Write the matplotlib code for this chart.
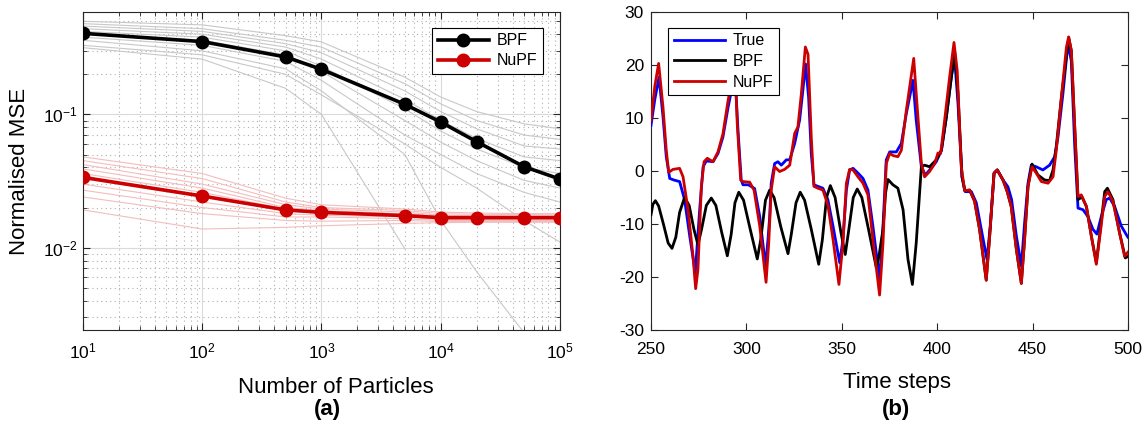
import numpy as np
import matplotlib
matplotlib.use("Agg")
import matplotlib.pyplot as plt
from matplotlib.ticker import LogLocator, NullFormatter

plt.rcParams['font.family'] = ['Liberation Sans', 'DejaVu Sans']
plt.rcParams['mathtext.fontset'] = 'custom'
plt.rcParams['mathtext.rm'] = 'Liberation Sans'
plt.rcParams['mathtext.default'] = 'regular'
plt.rcParams['axes.unicode_minus'] = False

# ---------------- panel (a) data ----------------
n_particles = [10, 100, 500, 1000, 5000, 10000, 20000, 50000, 100000]
bpf_mse = [0.406, 0.352, 0.270, 0.218, 0.119, 0.0876, 0.0624, 0.0405, 0.0327]
nupf_mse = [0.0337, 0.0244, 0.0192, 0.0184, 0.0174, 0.0168, 0.0168, 0.0168, 0.0168]

bpf_runs = [
    [0.50, 0.47, 0.39, 0.35, 0.19, 0.135, 0.105, 0.085, 0.078],
    [0.48, 0.44, 0.36, 0.32, 0.17, 0.12, 0.09, 0.070, 0.065],
    [0.46, 0.42, 0.34, 0.29, 0.15, 0.105, 0.078, 0.058, 0.055],
    [0.44, 0.40, 0.32, 0.26, 0.13, 0.09, 0.066, 0.048, 0.045],
    [0.42, 0.38, 0.30, 0.23, 0.11, 0.075, 0.055, 0.040, 0.036],
    [0.40, 0.36, 0.28, 0.21, 0.09, 0.062, 0.045, 0.032, 0.028],
    [0.38, 0.33, 0.25, 0.18, 0.07, 0.05, 0.036, 0.026, 0.022],
    [0.36, 0.30, 0.22, 0.15, 0.05, 0.016, 0.0066, 0.0023, np.nan],
    [0.317, 0.26, 0.157, 0.10, 0.0098, np.nan, np.nan, np.nan, np.nan],
    [0.33, 0.28, 0.20, 0.14, 0.06, 0.04, 0.028, 0.016, 0.011],
]
nupf_runs = [
    [0.048, 0.036, 0.0235, 0.021, 0.0195, 0.0185, 0.0182, 0.018, 0.018],
    [0.045, 0.033, 0.022, 0.020, 0.019, 0.018, 0.0178, 0.0177, 0.0176],
    [0.042, 0.030, 0.021, 0.0195, 0.0185, 0.0175, 0.0174, 0.0173, 0.0173],
    [0.039, 0.028, 0.020, 0.019, 0.018, 0.0172, 0.0171, 0.017, 0.017],
    [0.036, 0.026, 0.0195, 0.0185, 0.0177, 0.0169, 0.0168, 0.0168, 0.0168],
    [0.033, 0.024, 0.019, 0.018, 0.0173, 0.0166, 0.0165, 0.0165, 0.0165],
    [0.030, 0.022, 0.018, 0.0175, 0.017, 0.0163, 0.0163, 0.0162, 0.0162],
    [0.027, 0.020, 0.017, 0.017, 0.0165, 0.016, 0.016, 0.016, 0.016],
    [0.024, 0.018, 0.016, 0.0158, 0.016, 0.0157, 0.0157, 0.0157, 0.0157],
    [0.0192, 0.0138, 0.0142, 0.0146, 0.0152, 0.0154, 0.0155, 0.0155, 0.0155],
]

# ---------------- panel (b) data ----------------
true_t = [250, 252, 254.2, 256.3, 258, 259.8, 262, 265, 267.6, 270.3, 273.2, 275.5, 277.3, 279,
          282.5, 285.1, 287.7, 290.4, 294, 295.6, 297.3, 298.2, 301, 304.3, 307, 310, 311.3, 312.2,
          313, 314.8, 316.5, 318.3, 320.9, 322.7, 325.3, 327.9, 329.6, 331, 332.6, 334, 335.4,
          337.5, 340.1, 342.7, 345.4, 348.9, 350.6, 352.4, 354.1, 355.9, 358.5, 361.1, 363.7,
          366.3, 369.8, 371.6, 373.3, 375.1, 378.6, 381.2, 383.8, 387.3, 389, 391.7, 393.8, 396,
          399.5, 402.2, 404.8, 407.4, 409.1, 410.9, 413, 414.7, 417.9, 420.5, 423.1, 426.1, 427.8,
          429.8, 431.5, 434.5, 437.1, 439, 441.5, 444.1, 445.8, 447.6, 449.3, 451.9, 455.4, 458.9,
          461.6, 463.3, 465.9, 468.5, 470.3, 472, 473.8, 476.4, 479, 481.6, 483.7, 486, 488.6,
          490.4, 493, 496.5, 499.6, 500]
true_v = [8.6, 13.5, 17.7, 10.2, 2.7, -1.4, -1.7, -2.0, -5.4, -12.3, -19.2, -7.3, 0.8, 1.9,
          1.75, 3.3, 6.4, 12.0, 18.5, 7.7, -1.7, -2.6, -2.6, -3.3, -8.6, -17.9, -13.0, -8.6,
          -2.3, 1.4, 1.75, 1.1, 2.1, 2.1, 5.2, 9.6, 15.2, 20.2, 13.9, 3.3, -2.6,
          -2.9, -3.25, -5.4, -10.4, -17.3, -12.9, -3.6, 0.2, 0.5, -0.4, -1.4, -3.6,
          -10.4, -20.4, -10.4, 2.1, 3.6, 3.6, 5.2, 10.8, 17.1, 9.6, 0.8, -0.75, 0.2,
          1.75, 3.9, 10.2, 17.7, 21.4, 12.7, -1.1, -3.9, -3.9, -6.0, -11.0, -16.7, -10.4,
          -0.4, 0.2, -1.7, -3.0, -5.4, -12.3, -17.9, -9.8, -2.3, 1.1, 0.8, 0.2, 1.1,
          2.7, 6.4, 14.6, 24.0, 20.8, 5.2, -7.0, -7.3, -8.6, -11.0, -11.9, -8.6, -5.4,
          -5.1, -6.7, -10.4, -12.3, -12.5]

nupf_t = [250, 252, 254, 256.3, 258, 259.3, 261.5, 265, 266.8, 269.4, 272, 273.4, 274.6, 276.4,
          277.8, 279.5, 282.5, 285.1, 287.7, 290.4, 294, 295.2, 297, 298.2, 301.7, 304, 307,
          310.3, 311.7, 313, 314.8, 317.4, 320, 322.7, 325.3, 327, 328.8, 330.9, 332.3, 334,
          335.4, 337.5, 340.1, 342.7, 345.4, 348.5, 350.6, 352.4, 354.1, 355.9, 358.5, 361.1,
          363.7, 366.3, 369.8, 371.6, 373.3, 375.1, 377, 379.4, 381.2, 383.8, 387.7, 389, 391.7,
          393.4, 396, 398.7, 400.4, 401.8, 403.9, 406.5, 408.8, 410.5, 412.6, 414.4, 417, 419.6,
          422.2, 425.7, 427.5, 429.8, 431.5, 434.5, 436.7, 438.8, 441.5, 444.1, 445.8, 447.6,
          449.7, 451.9, 454.6, 458.1, 460.7, 462.4, 465.1, 467.7, 468.9, 470.3, 472, 473.8,
          475.5, 478.2, 480.8, 483.4, 485.7, 487.8, 489.5, 492.1, 495.6, 498.2, 500]
nupf_v = [9.6, 16.0, 20.3, 12.0, 3.9, -0.25, 0.3, 0.5, -1.1, -7.3, -16.0, -22.2, -18.6, -2.9,
          1.75, 2.4, 1.75, 3.6, 7.0, 13.3, 20.0, 8.9, -1.7, -2.0, -2.1, -3.6, -10.4,
          -21.0, -13.6, -3.6, 0.8, -0.1, 0.3, 1.1, 7.1, 8.3, 14.6, 23.4, 22.0, 6.4,
          -2.9, -3.25, -3.6, -6.4, -12.9, -21.4, -13.6, -2.3, 0.3, 0.2, -1.1, -2.3,
          -4.5, -12.9, -23.4, -13.6, 1.4, 3.3, 2.9, 2.7, 3.9, 11.4, 21.25, 14.6, 1.4,
          -1.1, -0.1, 1.4, 3.4, 3.3, 9.6, 17.7, 24.25, 18.9, 0.8, -3.7, -3.6, -5.7,
          -11.0, -20.6, -12.3, -0.4, 0.2, -1.7, -3.9, -6.7, -14.8, -21.2, -12.9, -2.9,
          0.8, -0.4, -2.0, -2.3, -1.1, 3.9, 13.9, 23.3, 25.3, 22.7, 8.9, -4.8,
          -4.5, -6.7, -12.3, -17.6, -11.0, -4.8, -3.9, -5.75, -11.7, -16.1, -15.3]

bpf_t = [250, 251, 252.3, 254, 256.5, 259, 261, 263, 265, 267.6, 270, 272.5, 274.6, 276.5, 279,
         281.6, 284, 287, 290, 292, 294, 296, 298.5, 302, 305.7, 307.5, 310, 312.2, 314.5, 318,
         321.8, 323.5, 326, 328.2, 330.5, 334, 337.9, 339.8, 342, 344, 346.5, 349.5, 351.8,
         353.5, 356, 358.1, 360.5, 364, 368.1, 369.5, 371.6, 373, 374.2, 376.8, 379.4, 382.1,
         384.7, 387, 389, 391.7, 393.4, 396, 399.5, 402.2, 404.8, 407.4, 409.1, 410.9, 413,
         414.4, 417, 419.6, 422.2, 425.7, 427.5, 429.8, 431.5, 434.5, 436.7, 438.8, 441.5,
         444.1, 445.8, 447.6, 449.7, 452.8, 456.3, 458.9, 460.7, 462.4, 465.1, 468.9, 470.3,
         472, 473.8, 475.9, 478.2, 480.8, 483.4, 485.7, 487.8, 489.2, 492.1, 495.6, 498.6, 500]
bpf_v = [-8.25, -6.3, -5.6, -6.6, -10.0, -13.6, -14.6, -12.5, -7.8, -5.0, -6.5, -11.0, -13.9,
         -11.0, -6.5, -5.1, -6.5, -11.5, -16.0, -12.0, -6.0, -4.0, -5.5, -11.0, -16.6, -13.0,
         -5.5, -3.6, -5.0, -10.5, -15.6, -12.0, -6.0, -4.0, -5.5, -11.0, -17.6, -13.0, -5.0,
         -2.75, -5.0, -11.5, -15.75, -11.5, -5.0, -3.4, -5.0, -11.0, -18.25, -16.0, -11.0,
         -4.0, -1.6, -2.6, -3.25, -7.3, -16.7, -21.4, -13.6, 0.8, 1.1, 0.8, 2.1, 3.9, 10.2,
         17.7, 22.7, 14.6, -1.1, -3.7, -3.6, -5.7, -11.0, -20.6, -12.3, -0.4, 0.2, -1.7,
         -3.9, -6.7, -14.8, -21.2, -12.9, -2.9, 1.3, -0.75, -1.7, -1.8, 0.2, 4.6, 13.9,
         25.2, 22.7, 8.9, -5.4, -4.9, -6.7, -12.3, -17.3, -10.4, -3.9, -3.25, -5.4, -11.7,
         -16.4, -16.1]

RED = '#CC0000'
AX_COL = '#262626'

fig = plt.figure(figsize=(11.42, 4.37), dpi=100)
ax1 = fig.add_axes([83/1142, 107/437, 477/1142, 318/437])
ax2 = fig.add_axes([651/1142, 107/437, 477/1142, 318/437])

# ---------- panel (a) ----------
for r in bpf_runs:
    ax1.plot(n_particles, r, color='#C8C8C8', lw=0.8, zorder=2)
for r in nupf_runs:
    ax1.plot(n_particles, r, color='#F3BDBD', lw=0.8, zorder=2)
ax1.plot(n_particles, bpf_mse, color='black', lw=2.6, marker='o', ms=9, label='BPF', zorder=4)
ax1.plot(n_particles, nupf_mse, color=RED, lw=2.6, marker='o', ms=9, label='NuPF', zorder=4)
ax1.set_xscale('log')
ax1.set_yscale('log')
ax1.set_xlim(10, 1e5)
ax1.set_ylim(0.00241, 0.587)
ax1.xaxis.set_minor_locator(LogLocator(base=10, subs=np.arange(2, 10)))
ax1.yaxis.set_minor_locator(LogLocator(base=10, subs=np.arange(2, 10)))
ax1.xaxis.set_minor_formatter(NullFormatter())
ax1.yaxis.set_minor_formatter(NullFormatter())
ax1.grid(which='major', color='#DADADA', lw=0.8, ls='-', zorder=0)
ax1.grid(which='minor', color='#B0B0B0', lw=0.8, ls=(0, (1, 3)), zorder=0)
ax1.set_axisbelow(True)
ax1.set_xlabel('Number of Particles', fontsize=16)
ax1.set_ylabel('Normalised MSE', fontsize=16)
ax1.xaxis.set_label_coords(0.53, -0.148)
ax1.yaxis.set_label_coords(-0.112, 0.5)
leg1 = ax1.legend(loc='upper right', bbox_to_anchor=(0.964, 0.95), borderaxespad=0,
                  fontsize=11.5, handlelength=3.2, fancybox=False, edgecolor='black',
                  framealpha=1, borderpad=0.35, labelspacing=0.3, handletextpad=0.5)
leg1.get_frame().set_linewidth(0.8)

# ---------- panel (b) ----------
ax2.plot(true_t, true_v, color='#0000FF', lw=2.0, label='True', zorder=3,
         solid_joinstyle='round')
ax2.plot(bpf_t, bpf_v, color='black', lw=2.0, label='BPF', zorder=4, solid_joinstyle='round')
ax2.plot(nupf_t, nupf_v, color=RED, lw=2.0, label='NuPF', zorder=5, solid_joinstyle='round')
ax2.set_xlim(250, 500)
ax2.set_ylim(-30, 30)
ax2.set_xticks([250, 300, 350, 400, 450, 500])
ax2.set_yticks([-30, -20, -10, 0, 10, 20, 30])
ax2.set_xlabel('Time steps', fontsize=16)
ax2.xaxis.set_label_coords(0.516, -0.132)
leg2 = ax2.legend(loc='upper left', bbox_to_anchor=(0.0356, 0.95), borderaxespad=0,
                  fontsize=11.5, handlelength=3.2, fancybox=False, edgecolor='black',
                  framealpha=1, borderpad=0.35, labelspacing=0.35, handletextpad=0.5)
leg2.get_frame().set_linewidth(0.8)
leg2.set_zorder(10)

for ax in (ax1, ax2):
    ax.tick_params(which='both', direction='in', top=True, right=True,
                   colors=AX_COL, labelcolor='black', labelsize=12.5)
    ax.tick_params(which='major', length=5, width=0.8)
    ax.tick_params(which='minor', length=3, width=0.6)
    for s in ax.spines.values():
        s.set_color(AX_COL)
        s.set_linewidth(0.8)
ax1.tick_params(axis='x', which='major', pad=8)
ax2.tick_params(axis='x', which='major', pad=9)
ax2.tick_params(axis='y', which='major', pad=5)

fig.text(327/1142, 1 - 410/437, '(a)', fontsize=16, fontweight='bold', ha='center', va='center')
fig.text(896/1142, 1 - 410/437, '(b)', fontsize=16, fontweight='bold', ha='center', va='center')

fig.savefig('out.png', dpi=100)
